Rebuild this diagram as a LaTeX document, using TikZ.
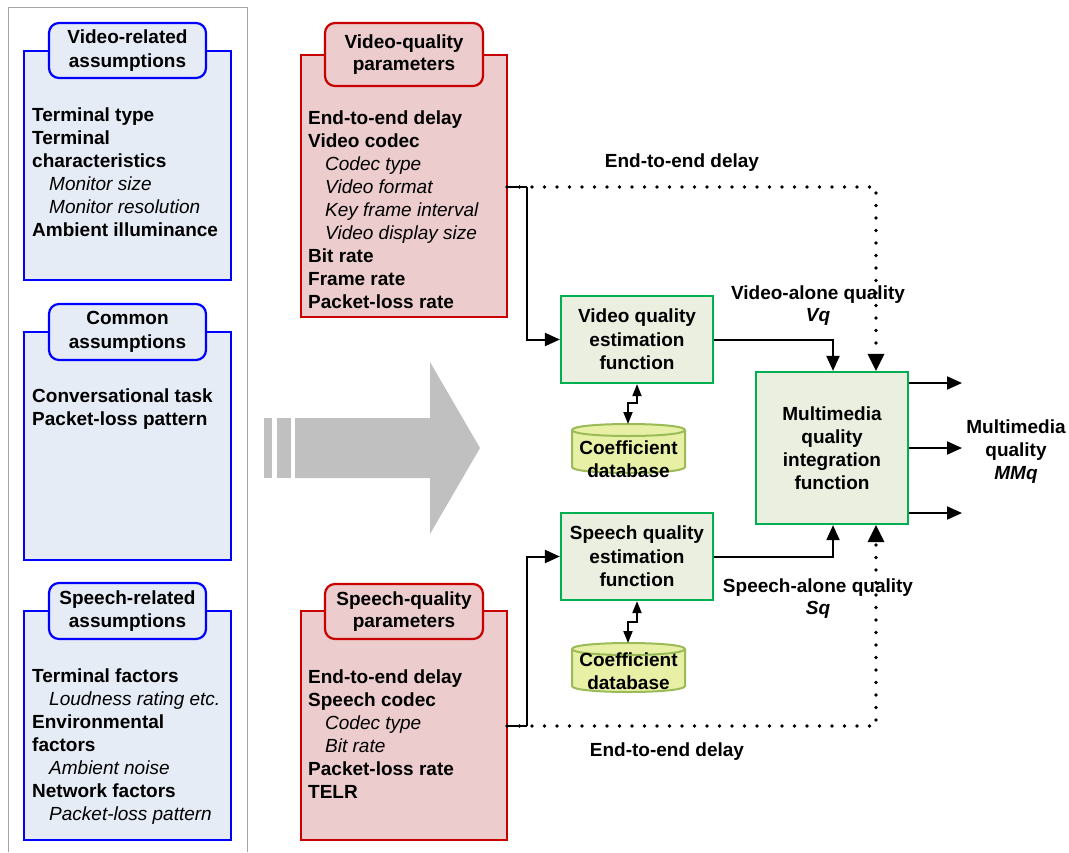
\documentclass[tikz,border=0pt]{standalone}
\usepackage{fontspec}
\setmainfont{Liberation Sans}
\usetikzlibrary{arrows.meta}
\definecolor{bbord}{RGB}{0,0,255}
\definecolor{bfill}{RGB}{230,236,246}
\definecolor{rbord}{RGB}{200,0,0}
\definecolor{rfill}{RGB}{236,204,204}
\definecolor{gbord}{RGB}{0,176,80}
\definecolor{gfill}{RGB}{235,239,224}
\definecolor{cbord}{RGB}{155,187,89}
\definecolor{cfill}{RGB}{232,240,165}
\definecolor{arrowgray}{RGB}{192,192,192}
\definecolor{panelgray}{RGB}{165,165,165}
\newcommand{\subitm}[1]{\hspace*{17pt}{\mdseries\itshape #1}}
\begin{document}
\begin{tikzpicture}[x=1pt,y=-1pt,
  every node/.style={font=\fontsize{19}{23}\selectfont\bfseries, inner sep=0pt},
  bluebox/.style={draw=bbord, fill=bfill, line width=2.2pt},
  bluetab/.style={bluebox, rounded corners=10pt, align=center, font=\fontsize{19}{23.5}\selectfont\bfseries},
  redbox/.style={draw=rbord, fill=rfill, line width=2.2pt},
  redtab/.style={redbox, rounded corners=10pt, align=center, font=\fontsize{19}{22.5}\selectfont\bfseries},
  gbox/.style={draw=gbord, fill=gfill, line width=2.2pt, align=center, font=\fontsize{19}{23.5}\selectfont\bfseries},
  cyl/.style={draw=cbord, fill=cfill, line width=2pt},
  listtext/.style={align=left, anchor=north west},
  lbl/.style={align=center},
  conn/.style={line width=2pt, -{Triangle[length=15pt,width=13pt]}},
  plainline/.style={line width=2pt},
  dots/.style={line width=3.6pt, line cap=round, dash pattern=on 0pt off 12.5pt, -{Triangle[length=17pt,width=17pt,line width=0pt]}},
  dbl/.style={line width=1.8pt, {Triangle[length=12pt,width=9pt]}-{Triangle[length=12pt,width=9pt]}}
]
\useasboundingbox (0,0) rectangle (1069,852);

% left panel
\draw[panelgray, line width=1pt] (8,852) -- (8,7) -- (247,7) -- (247,852);

% video-related assumptions
\node[bluebox, minimum width=207pt, minimum height=229pt] (vrb) at (127.5,165.5) {};
\node[bluetab, minimum width=157pt, minimum height=55pt] (vrt) at (127.5,50.5) {Video-related\\assumptions};
\node[listtext] (vrl) at (32,108) {Terminal type\\Terminal\\characteristics\\\subitm{Monitor size}\\\subitm{Monitor resolution}\\Ambient illuminance};

% common assumptions
\node[bluebox, minimum width=207pt, minimum height=228pt] (cab) at (127.5,446) {};
\node[bluetab, minimum width=157pt, minimum height=56pt] (cat) at (127.5,332) {Common\\assumptions};
\node[listtext] (cal) at (32,389) {Conversational task\\Packet-loss pattern};

% speech-related assumptions
\node[bluebox, minimum width=207pt, minimum height=229pt] (srb) at (127.5,725.5) {};
\node[bluetab, minimum width=157pt, minimum height=56pt] (srt) at (127.5,611) {Speech-related\\assumptions};
\node[listtext] (srl) at (32,669) {Terminal factors\\\subitm{Loudness rating etc.}\\Environmental\\factors\\\subitm{Ambient noise}\\Network factors\\\subitm{Packet-loss pattern}};

% big gray arrow
\fill[arrowgray] (295,418) -- (430,418) -- (430,362) -- (480,448) -- (430,534) -- (430,478) -- (295,478) -- cycle;
\fill[arrowgray] (264,418) rectangle (272,478);
\fill[arrowgray] (277,418) rectangle (291,478);

% video-quality parameters
\node[redbox, minimum width=206pt, minimum height=262pt] (vqp) at (404,186) {};
\node[redtab, minimum width=158pt, minimum height=63pt] (vqt) at (404,54.5) {Video-quality\\parameters};
\node[listtext] (vql) at (308,111) {End-to-end delay\\Video codec\\\subitm{Codec type}\\\subitm{Video format}\\\subitm{Key frame interval}\\\subitm{Video display size}\\Bit rate\\Frame rate\\Packet-loss rate};

% speech-quality parameters
\node[redbox, minimum width=206pt, minimum height=229pt] (sqp) at (404,725.5) {};
\node[redtab, minimum width=158pt, minimum height=55pt] (sqt) at (404,611.5) {Speech-quality\\parameters};
\node[listtext] (sql) at (308,670) {End-to-end delay\\Speech codec\\\subitm{Codec type}\\\subitm{Bit rate}\\Packet-loss rate\\TELR};

% estimation functions
\node[gbox, minimum width=152pt, minimum height=87pt] (vqe) at (637,339.5) {Video quality\\estimation\\function};
\node[gbox, minimum width=152pt, minimum height=87pt] (sqe) at (637,556.5) {Speech quality\\estimation\\function};
\node[gbox, minimum width=152pt, minimum height=152pt, font=\fontsize{19}{23}\selectfont\bfseries] (mm) at (832,448) {Multimedia\\quality\\integration\\function};

% coefficient databases
\filldraw[cyl] (572,430) -- (572,467) .. controls (572,475) and (685,475) .. (685,467) -- (685,430) .. controls (685,422) and (572,422) .. (572,430) -- cycle;
\draw[cyl, fill=none] (572,430) .. controls (572,438) and (685,438) .. (685,430);
\node[lbl] (cdb1) at (628.5,459) {Coefficient\\database};
\coordinate (cdb1top) at (628,424);

\filldraw[cyl] (572,649) -- (572,686) .. controls (572,694) and (685,694) .. (685,686) -- (685,649) .. controls (685,641) and (572,641) .. (572,649) -- cycle;
\draw[cyl, fill=none] (572,649) .. controls (572,657) and (685,657) .. (685,649);
\node[lbl] (cdb2) at (628.5,671.5) {Coefficient\\database};
\coordinate (cdb2top) at (628,643);

% labels
\node[lbl] (e2et) at (682,163) {End-to-end delay};
\node[lbl] (e2eb) at (667,752) {End-to-end delay};
\node[lbl, font=\fontsize{19}{22}\selectfont\bfseries] (vql2) at (818,306) {Video-alone quality\\\textit{Vq}};
\node[lbl, font=\fontsize{19}{22}\selectfont\bfseries] (sql2) at (818,599) {Speech-alone quality\\\textit{Sq}};
\node[lbl, font=\fontsize{19}{23}\selectfont\bfseries] (mmq) at (1016,452) {Multimedia\\quality\\\textit{MMq}};

% taps
\coordinate (vtap) at (507,187);
\coordinate (vbend) at (527,187);
\coordinate (stap) at (507,726);
\coordinate (sbend) at (527,726);
\coordinate (vjog) at (637,403);
\coordinate (sjog) at (637,622);
\coordinate (o1) at (962,383);
\coordinate (o2) at (962,448);
\coordinate (o3) at (962,513);

% connectors
\draw[plainline] (vtap) -- (vbend);
\draw[conn] (vbend) |- (vqe.west);
\draw[plainline] (stap) -- (sbend);
\draw[conn] (sbend) |- (sqe.west);
\draw[conn] (vqe.east) -| ([xshift=1pt]mm.north);
\draw[conn] (sqe.east) -| ([xshift=1pt]mm.south);
\draw[dots] (vtap) -| ([xshift=44pt]mm.north);
\draw[dots] (stap) -| ([xshift=44pt]mm.south);
\draw[dbl] (vqe.south) -- (vjog) -| (cdb1top);
\draw[dbl] (sqe.south) -- (sjog) -| (cdb2top);
\draw[conn] ([yshift=65pt]mm.east) -- (o1);
\draw[conn] (mm.east) -- (o2);
\draw[conn] ([yshift=-65pt]mm.east) -- (o3);
\end{tikzpicture}
\end{document}
